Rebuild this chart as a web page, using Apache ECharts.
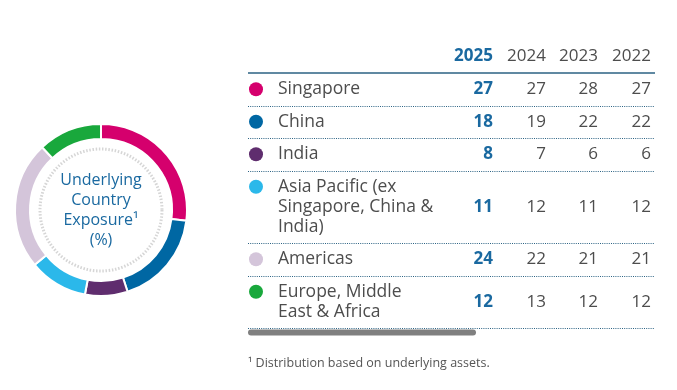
<!DOCTYPE html>
<html><head><meta charset="utf-8">
<script src="https://cdn.jsdelivr.net/npm/echarts@6/dist/echarts.min.js"></script>
<style>html,body{margin:0;padding:0;background:#fff}#c{width:677px;height:390px}</style>
</head><body><div id="c"></div>
<script>
const regions = ['Singapore', 'China', 'India', 'Asia Pacific (ex\nSingapore, China &\nIndia)', 'Americas', 'Europe, Middle\nEast & Africa'];
const years = ['2025', '2024', '2023', '2022'];
const values2025 = [27, 18, 8, 11, 24, 12];
const values2024 = [27, 19, 7, 12, 22, 13];
const values2023 = [28, 22, 6, 11, 21, 12];
const values2022 = [27, 22, 6, 12, 21, 12];
const centerLabel = 'Underlying\nCountry\nExposure¹\n(%)';
const footnote = '¹ Distribution based on underlying assets.';

const palette = ['#d5006d', '#0067a3', '#5f2d6e', '#2bb8ea', '#d4c5da', '#19a83c'];
const FONT = '"Open Sans", "Noto Sans", sans-serif';
const BLUE = '#1a69a0';
const TXT = '#4d4d4d';
const LINE = '#2b6283';

const colX = [493, 546, 598, 651];
const allVals = [values2025, values2024, values2023, values2022];
const graphics = [];

// header
years.forEach((y, i) => {
  graphics.push({type: 'text', x: colX[i], y: 56, style: {text: y, align: 'right', verticalAlign: 'middle',
    font: (i === 0 ? 'bold ' : '') + '17px ' + FONT, fill: i === 0 ? BLUE : TXT}});
});
graphics.push({type: 'line', shape: {x1: 248, y1: 73, x2: 655, y2: 73}, style: {stroke: LINE, lineWidth: 1.3}});

let rowTop = 73;
regions.forEach((r, k) => {
  const lines = r.split('\n').length;
  const h = 20 * lines + 12.5;
  const cy = rowTop + h / 2;
  graphics.push({type: 'circle', shape: {cx: 256, cy: cy - (lines > 1 ? (lines - 1) * 10 : 0), r: 7}, style: {fill: palette[k]}});
  graphics.push({type: 'text', x: 278, y: cy, style: {text: r, align: 'left', verticalAlign: 'middle', lineHeight: 20,
    font: '17.5px ' + FONT, fill: TXT}});
  allVals.forEach((arr, i) => {
    graphics.push({type: 'text', x: colX[i], y: cy, style: {text: String(arr[k]), align: 'right', verticalAlign: 'middle',
      font: (i === 0 ? 'bold ' : '') + '17px ' + FONT, fill: i === 0 ? BLUE : TXT}});
  });
  rowTop += h;
  graphics.push({type: 'line', shape: {x1: 248, y1: Math.round(rowTop) + 0.5, x2: 655, y2: Math.round(rowTop) + 0.5},
    style: {stroke: LINE, lineWidth: 1, lineDash: [1, 1.2]}});
});

// scrollbar-like bar
graphics.push({type: 'rect', shape: {x: 248, y: rowTop + 1.5, width: 228, height: 6, r: 3}, style: {fill: '#808080'}});

// footnote
graphics.push({type: 'text', x: 248, y: 363, style: {text: footnote, align: 'left', verticalAlign: 'middle',
  font: '12.5px ' + FONT, fill: '#555'}});

// dotted inner circle
graphics.push({type: 'circle', shape: {cx: 101, cy: 210, r: 61}, style: {fill: 'none', stroke: '#d6d6d6', lineWidth: 3, lineDash: [1.5, 1.7]}});

// center label
graphics.push({type: 'text', x: 101, y: 210, style: {text: centerLabel, align: 'center', verticalAlign: 'middle', lineHeight: 20,
  font: '16px ' + FONT, fill: BLUE}});

const chart = echarts.init(document.getElementById('c'), null, {renderer: 'canvas'});
chart.setOption({
  animation: false,
  series: [{
    type: 'pie',
    center: [101, 210],
    radius: [71, 86],
    startAngle: 90,
    clockwise: true,
    silent: true,
    label: {show: false},
    labelLine: {show: false},
    itemStyle: {borderColor: '#fff', borderWidth: 2},
    data: regions.map((r, k) => ({name: r, value: values2025[k], itemStyle: {color: palette[k]}}))
  }],
  graphic: graphics
});
</script></body></html>
